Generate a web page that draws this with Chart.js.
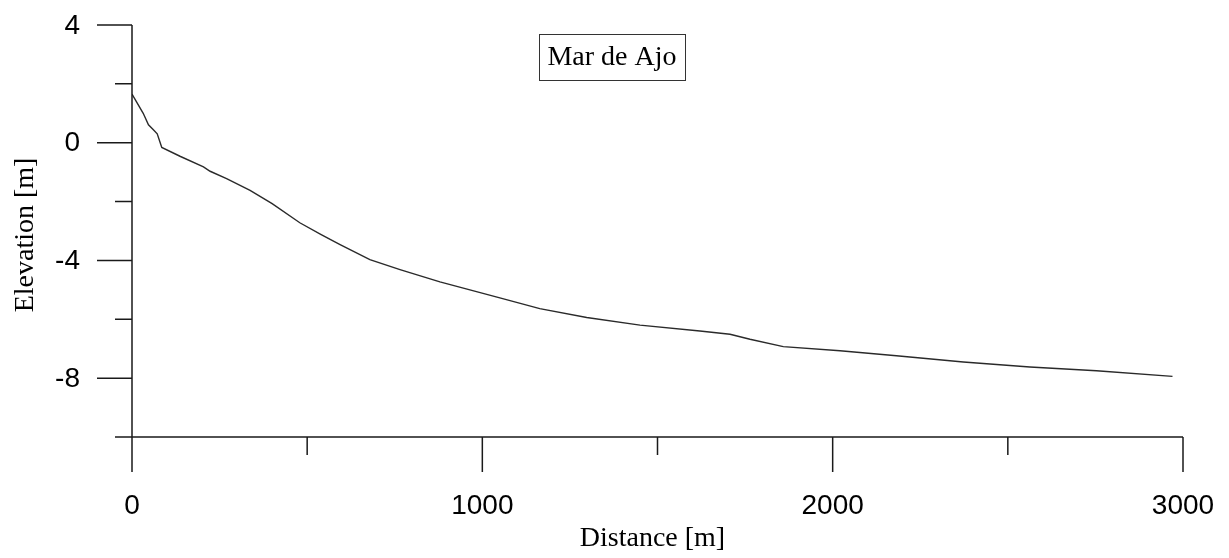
<!DOCTYPE html>
<html>
<head>
<meta charset="utf-8">
<script src="https://cdn.jsdelivr.net/npm/chart.js@4"></script>
<style>
  html, body { margin: 0; padding: 0; background: #fff; }
  #wrap { width: 1229px; height: 558px; position: relative; }
</style>
</head>
<body>
<div id="wrap"><canvas id="profileChart"></canvas></div>
<script>
// beach profile, distance [m] vs elevation [m]
const distance = [0, 32, 47, 61, 72, 85, 137, 204, 223, 270, 337, 400, 479, 540, 594, 679, 765, 879,
  1050, 1164, 1298, 1450, 1621, 1707, 1764, 1859, 2021, 2182, 2373, 2563, 2753, 2970];
const elevation = [1.65, 1.0, 0.61, 0.44, 0.3, -0.16, -0.46, -0.82, -0.97, -1.22, -1.62, -2.07, -2.72, -3.12, -3.46, -3.97, -4.31, -4.73,
  -5.27, -5.64, -5.94, -6.20, -6.40, -6.51, -6.68, -6.93, -7.07, -7.24, -7.45, -7.62, -7.75, -7.94];

const xMajorTicks = [0, 1000, 2000, 3000];
const xMinorTicks = [500, 1500, 2500];
const yMajorTicks = [4, 0, -4, -8];
const yMinorTicks = [2, -2, -6, -10];

const xTitle = 'Distance [m]';
const yTitle = 'Elevation [m]';
const siteName = 'Mar de Ajo';
const siteLabelAt = { x: 1370, y: 2.92 };

const sansFont = '28px "Liberation Sans", Arial, sans-serif';
const serifFont = '28px "Liberation Serif", "Times New Roman", serif';

// axes are drawn by hand: long major ticks, short minor ticks, crossing at (0, -10)
const axesPlugin = {
  id: 'profileAxes',
  afterDraw(chart) {
    const { ctx, chartArea, scales: { x, y } } = chart;
    const x0 = x.getPixelForValue(0);
    const yBottom = y.getPixelForValue(-10);
    const yTop = y.getPixelForValue(4);
    const xRight = x.getPixelForValue(3000);
    const majorLen = 35;
    const minorLen = 17;

    ctx.save();
    ctx.strokeStyle = '#1a1a1a';
    ctx.lineWidth = 1.5;
    ctx.beginPath();
    // y axis runs past the x axis by one major tick
    ctx.moveTo(x0, yTop);
    ctx.lineTo(x0, yBottom + majorLen);
    // x axis, starting a minor tick left of the y axis
    ctx.moveTo(x0 - minorLen, yBottom);
    ctx.lineTo(xRight, yBottom);
    yMajorTicks.forEach(v => {
      const p = y.getPixelForValue(v);
      ctx.moveTo(x0 - majorLen, p);
      ctx.lineTo(x0, p);
    });
    yMinorTicks.forEach(v => {
      const p = y.getPixelForValue(v);
      ctx.moveTo(x0 - minorLen, p);
      ctx.lineTo(x0, p);
    });
    xMajorTicks.forEach(v => {
      const p = x.getPixelForValue(v);
      ctx.moveTo(p, yBottom);
      ctx.lineTo(p, yBottom + majorLen);
    });
    xMinorTicks.forEach(v => {
      const p = x.getPixelForValue(v);
      ctx.moveTo(p, yBottom);
      ctx.lineTo(p, yBottom + 18);
    });
    ctx.stroke();

    // tick labels
    ctx.fillStyle = '#000';
    ctx.font = sansFont;
    ctx.textBaseline = 'middle';
    ctx.textAlign = 'right';
    yMajorTicks.forEach(v => {
      ctx.fillText(String(v), x0 - 52, y.getPixelForValue(v) + 1);
    });
    ctx.textAlign = 'center';
    xMajorTicks.forEach(v => {
      ctx.fillText(String(v), x.getPixelForValue(v), yBottom + 69);
    });

    // axis titles
    ctx.font = serifFont;
    ctx.fillText(xTitle, (x0 + xRight) / 2 - 5, yBottom + 102);
    ctx.save();
    ctx.translate(26, (yTop + yBottom) / 2 + 4);
    ctx.rotate(-Math.PI / 2);
    ctx.fillText(yTitle, 0, 0);
    ctx.restore();

    // boxed site name
    const cx = x.getPixelForValue(siteLabelAt.x);
    const cy = y.getPixelForValue(siteLabelAt.y);
    const w = ctx.measureText(siteName).width + 17;
    const h = 46;
    ctx.fillText(siteName, cx, cy + 1);
    ctx.lineWidth = 1;
    ctx.strokeStyle = '#333';
    ctx.strokeRect(Math.round(cx - w / 2) + 0.5, Math.round(cy - h / 2) + 0.5, Math.round(w), h);
    ctx.restore();
  }
};

new Chart(document.getElementById('profileChart'), {
  type: 'line',
  data: {
    datasets: [{
      label: siteName,
      data: distance.map((d, i) => ({ x: d, y: elevation[i] })),
      borderColor: '#2a2a2a',
      borderWidth: 1.4,
      pointRadius: 0,
      tension: 0,
      fill: false
    }]
  },
  options: {
    responsive: true,
    maintainAspectRatio: false,
    animation: false,
    layout: { padding: { left: 132, right: 46, top: 25, bottom: 121 } },
    scales: {
      x: { type: 'linear', min: 0, max: 3000, display: false },
      y: { type: 'linear', min: -10, max: 4, display: false }
    },
    plugins: {
      legend: { display: false },
      tooltip: { enabled: false }
    }
  },
  plugins: [axesPlugin]
});
</script>
</body>
</html>
